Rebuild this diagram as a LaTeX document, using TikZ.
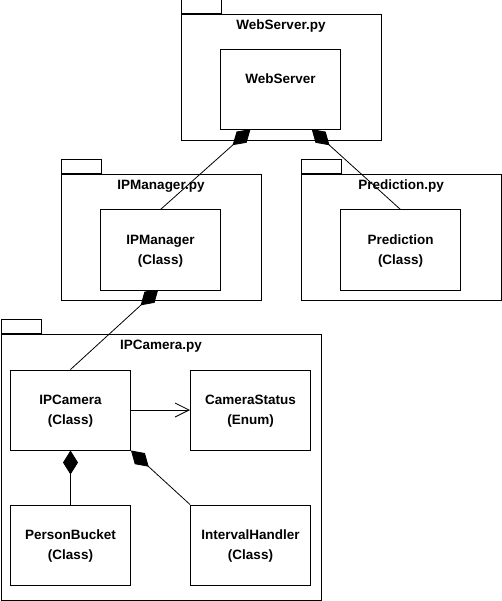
\documentclass[tikz,border=0pt]{standalone}
\usepackage{fontspec}
\setmainfont{Liberation Sans}
\usetikzlibrary{positioning, arrows.meta, calc, backgrounds}
\tikzset{
    pkg/.style={draw, rectangle, anchor=north west, inner sep=0pt, line width=1pt},
    pkgtab/.style={draw, rectangle, anchor=south west, minimum width=40pt, minimum height=14pt, inner sep=0pt, line width=1pt},
    pkgname/.style={inner sep=0pt, font=\fontsize{13.5}{16}\selectfont\bfseries},
    cls/.style={draw, rectangle, fill=white, minimum width=120pt, minimum height=80pt, inner sep=0pt, align=center, text depth=-7pt, line width=1pt, font=\fontsize{13.5}{20}\selectfont\bfseries},
    comp/.style={{Diamond[length=24pt, width=15pt]}-, line width=0.8pt},
    dep/.style={-{Straight Barb[length=14pt, width=14pt]}, line width=0.8pt}
}
\begin{document}
\begin{tikzpicture}[x=1pt, y=-1pt]
\useasboundingbox (0,0) rectangle (501,601);

% packages
\node[pkg, minimum width=200pt, minimum height=126pt] (wspkg) at (180.5,14) {};
\node[pkgtab] (wstab) at (wspkg.north west) {};
\node[pkgname, below=6pt of wspkg.north] (wsname) {WebServer.py};

\node[pkg, minimum width=200pt, minimum height=126pt] (ipmpkg) at (60.5,174) {};
\node[pkgtab] (ipmtab) at (ipmpkg.north west) {};
\node[pkgname, below=6pt of ipmpkg.north] (ipmname) {IPManager.py};

\node[pkg, minimum width=200pt, minimum height=126pt] (predpkg) at (300.5,174) {};
\node[pkgtab] (predtab) at (predpkg.north west) {};
\node[pkgname, below=6pt of predpkg.north] (predname) {Prediction.py};

\node[pkg, minimum width=320pt, minimum height=266pt] (ipcpkg) at (0.5,334) {};
\node[pkgtab] (ipctab) at (ipcpkg.north west) {};
\node[pkgname, below=6pt of ipcpkg.north] (ipcname) {IPCamera.py};

% classes
\node[cls, text depth=23.5pt] (ws) at (280.5,90) {WebServer};
\node[cls] (ipm) at (160.5,250) {IPManager\\(Class)};
\node[cls] (pred) at (400.5,250) {Prediction\\(Class)};
\node[cls] (ipc) at (70.5,410) {IPCamera\\(Class)};
\node[cls] (cs) at (250.5,410) {CameraStatus\\(Enum)};
\node[cls] (pb) at (70.5,545) {PersonBucket\\(Class)};
\node[cls] (ih) at (250.5,545) {IntervalHandler\\(Class)};

% connectors
\begin{scope}[on background layer]
\draw[comp, shorten <=-2pt] ($(ws.south west)!0.24!(ws.south east)$) -- (ipm.north);
\draw[comp, shorten <=-2pt] ($(ws.south west)!0.77!(ws.south east)$) -- (pred.north);
\draw[comp, shorten <=-2pt] ($(ipm.south west)!0.47!(ipm.south east)$) -- (ipc.north);
\end{scope}
\draw[comp] (ipc.south) -- (pb.north);
\draw[comp] (ipc.south east) -- (ih.north west);
\draw[dep] (ipc.east) -- (cs.west);
\end{tikzpicture}
\end{document}
